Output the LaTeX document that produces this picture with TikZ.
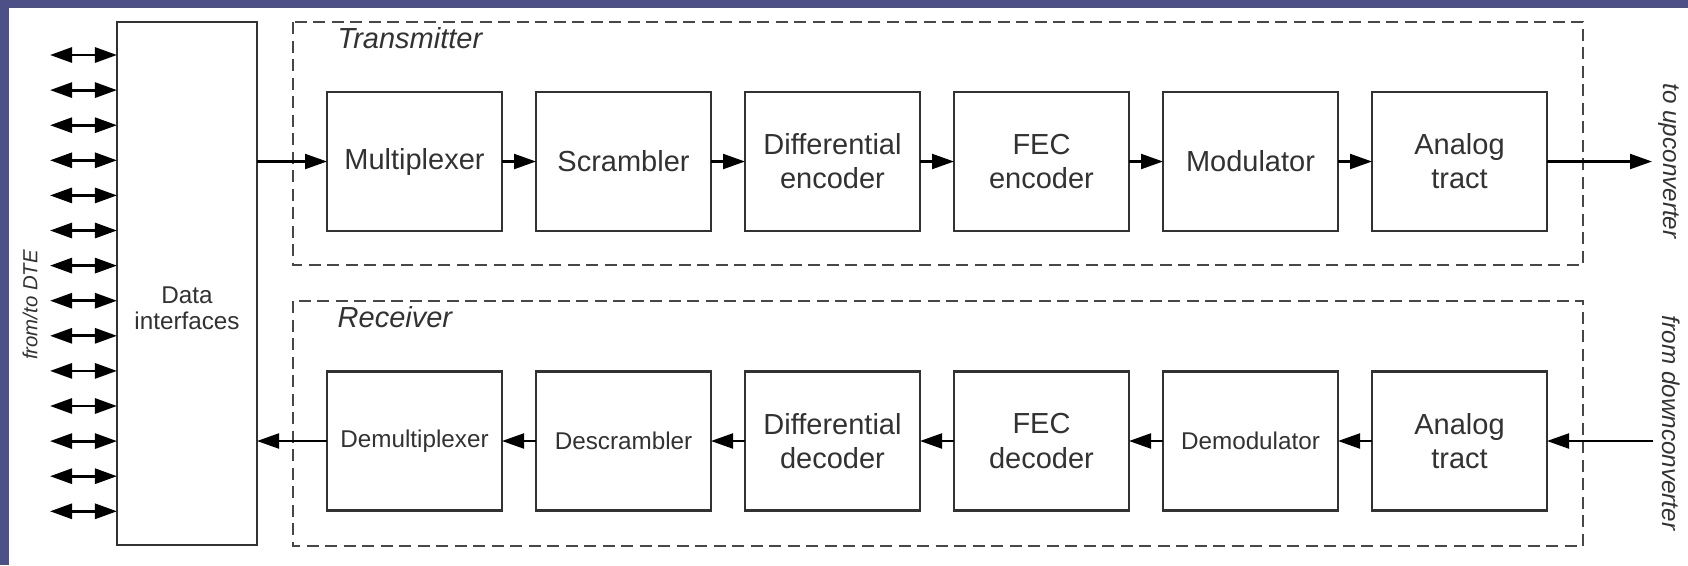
\documentclass[tikz,border=0pt]{standalone}
\usepackage{fontspec}
\setmainfont{Liberation Sans}
\usetikzlibrary{
		positioning,
		arrows.meta
	}
\definecolor{slide}{RGB}{77,79,135}
\definecolor{ink}{RGB}{50,50,50}
\tikzset{
		>={Triangle[length=2.2mm,width=1.5mm]}
	}

\begin{document}
\begin{tikzpicture}[-,auto,node distance=3.4mm,x=1mm,y=1mm]
	\tikzstyle{point}=[coordinate]
	\tikzstyle{block}=[draw=ink, line width=0.6pt, rectangle, outer sep=0pt, inner sep=1pt, minimum height=13.9mm, minimum width=17.5mm, align=center, text=ink, font=\fontsize{8.25}{9.7}\selectfont]
	\tikzstyle{smallblock}=[block, font=\fontsize{6.9}{8.3}\selectfont]
	\tikzstyle{groupbox}=[draw=ink!90, line width=0.7pt, dash pattern=on 1.2mm off 0.65mm]
	\tikzstyle{sidetext}=[text=ink, inner sep=0pt, font=\fontsize{6.9}{8.3}\selectfont\itshape]
	\tikzstyle{title}=[text=ink, inner sep=0pt, anchor=west, font=\fontsize{8.25}{9.7}\selectfont\itshape]
	\tikzstyle{flow}=[->, line width=0.6pt]
	% Background
	\fill[slide] (0,0) rectangle (168.8,-56.5);
	\fill[white] (0.9,-0.8) rectangle (168.8,-56.5);
	\useasboundingbox (0,0) rectangle (168.8,-56.5);
	% Data interfaces
	\node[block, minimum width=14mm, minimum height=52.3mm] (data) at (18.7,-28.35) {};
	\node[text=ink, align=center, inner sep=0pt, font=\fontsize{6.9}{7.3}\selectfont] (datatext) at (18.7,-30.8) {Data\\interfaces};
	% Transmitter chain
	\node[block] (mux)	at (41.45,-16.15)		{Multiplexer};
	\node[block] (scr)	[right = of mux]		{Scrambler};
	\node[block] (denc)	[right = of scr]		{Differential\\encoder};
	\node[block] (fenc)	[right = of denc]		{FEC\\encoder};
	\node[block] (mod)	[right = of fenc]		{Modulator};
	\node[block] (atx)	[right = of mod]		{Analog\\tract};
	% Receiver chain
	\node[smallblock] (demux)	at (41.45,-44.1)		{Demultiplexer};
	\node[smallblock] (descr)	[right = of demux]		{Descrambler};
	\node[block] (ddec)		[right = of descr]		{Differential\\decoder};
	\node[block] (fdec)		[right = of ddec]		{FEC\\decoder};
	\node[smallblock] (demod)	[right = of fdec]		{Demodulator};
	\node[block] (arx)		[right = of demod]		{Analog\\tract};
	% Dashed groups
	\draw[groupbox] (29.3,-2.2) rectangle (158.3,-26.5);
	\draw[groupbox] (29.3,-30.1) rectangle (158.3,-54.6);
	\node[title] (txtitle) at (33.7,-3.8)	{Transmitter};
	\node[title] (rxtitle) at (33.7,-31.7)	{Receiver};
	% Outside labels
	\node[sidetext, rotate=90, font=\fontsize{5.8}{7}\selectfont\itshape]  (dte)  at (3.0,-30.5)	{from/to DTE};
	\node[sidetext, rotate=-90] (upc)  at (166.9,-16.1)	{to upconverter};
	\node[sidetext, rotate=-90] (dnc)  at (167.1,-42.3)	{from downconverter};
	\node[point] (upend)	at (165.2,-16.15)	{};
	\node[point] (dnstart)	at (165.3,-44.1)	{};
	% DTE lines
	\foreach \k in {0,...,13} {
		\node[point] (dte\k) at (5.0,{-5.5-3.51*\k}) {};
		\draw[<->, line width=0.8pt] (dte\k) -- (dte\k -| data.west);
	}
	% Forward lines
	\draw[flow] (data.east |- mux) -- (mux);
	\foreach \a/\b in {mux/scr, scr/denc, denc/fenc, fenc/mod, mod/atx, atx/upend}
		\draw[flow] (\a) -- (\b);
	% Return lines
	\foreach \a/\b in {dnstart/arx, arx/demod, demod/fdec, fdec/ddec, ddec/descr, descr/demux}
		\draw[flow] (\a) -- (\b);
	\draw[flow] (demux) -- (demux -| data.east);
\end{tikzpicture}
\end{document}
